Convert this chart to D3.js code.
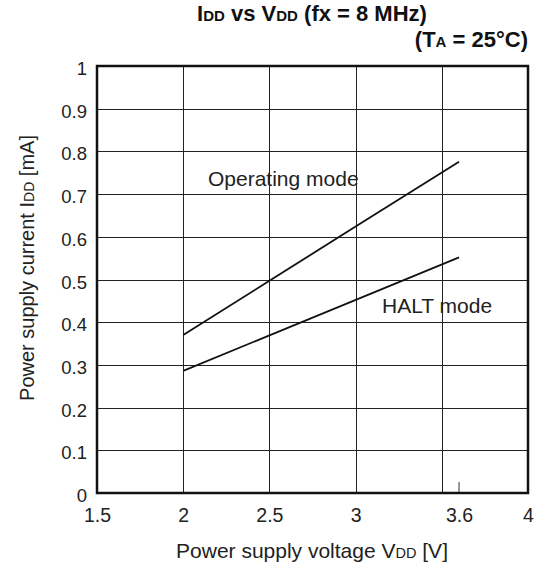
<!DOCTYPE html>
<html>
<head>
<meta charset="utf-8">
<script src="https://cdn.jsdelivr.net/npm/d3@7"></script>
<style>
  html, body { margin: 0; padding: 0; background: #fff; }
  svg { display: block; font-family: "Liberation Sans", Arial, sans-serif; }
</style>
</head>
<body>
<svg id="chart" width="538" height="569"></svg>
<script>
// Supply current vs supply voltage at fx = 8 MHz, TA = 25 °C
const xTickValues = [1.5, 2, 2.5, 3, 3.6, 4];
const xGridValues = [2, 2.5, 3, 3.5];
const yTickValues = [0, 0.1, 0.2, 0.3, 0.4, 0.5, 0.6, 0.7, 0.8, 0.9, 1];
const operatingVdd = [2, 2.5, 3, 3.6];
const operatingIdd = [0.37, 0.497, 0.624, 0.776];
const haltVdd = [2, 3.6];
const haltIdd = [0.286, 0.552];

const svg = d3.select("#chart");
const margin = { left: 97, right: 10, top: 66, bottom: 76 };
const W = 538, H = 569;

const x = d3.scaleLinear().domain([1.5, 4]).range([margin.left, W - margin.right]);
const y = d3.scaleLinear().domain([0, 1]).range([H - margin.bottom, margin.top]);

// grid
const grid = svg.append("g").attr("stroke", "#222").attr("stroke-width", 1);
grid.selectAll("line.v").data(xGridValues).join("line")
  .attr("x1", d => Math.round(x(d)) + 0.5).attr("x2", d => Math.round(x(d)) + 0.5)
  .attr("y1", y(0)).attr("y2", y(1));
grid.selectAll("line.h").data(yTickValues.filter(v => v > 0 && v < 1)).join("line")
  .attr("x1", x(1.5)).attr("x2", x(4))
  .attr("y1", d => Math.round(y(d)) + 0.5).attr("y2", d => Math.round(y(d)) + 0.5);

// short marker at 3.6 V
svg.append("line")
  .attr("x1", x(3.6)).attr("x2", x(3.6))
  .attr("y1", y(0)).attr("y2", y(0.026))
  .attr("stroke", "#333").attr("stroke-width", 1);

// curves
const line = d3.line().x(d => x(d[0])).y(d => y(d[1]));
svg.append("path")
  .datum(d3.zip(operatingVdd, operatingIdd))
  .attr("d", line).attr("fill", "none").attr("stroke", "#111").attr("stroke-width", 1.8);
svg.append("path")
  .datum(d3.zip(haltVdd, haltIdd))
  .attr("d", line).attr("fill", "none").attr("stroke", "#111").attr("stroke-width", 1.8);

// frame
svg.append("rect")
  .attr("x", x(1.5)).attr("y", y(1))
  .attr("width", x(4) - x(1.5)).attr("height", y(0) - y(1))
  .attr("fill", "none").attr("stroke", "#111").attr("stroke-width", 2.5);

// axes
const xAxis = d3.axisBottom(x).tickValues(xTickValues).tickSize(0).tickPadding(0)
  .tickFormat(d3.format("~g"));
const gx = svg.append("g").attr("transform", `translate(0,${y(0)})`).call(xAxis);
gx.select(".domain").remove();
gx.selectAll("text").attr("font-size", 19.5).attr("fill", "#222")
  .attr("dy", null).attr("y", 29);

const yAxis = d3.axisLeft(y).tickValues(yTickValues).tickSize(0).tickPadding(0)
  .tickFormat(d3.format("~g"));
const gy = svg.append("g").attr("transform", `translate(${x(1.5)},0)`).call(yAxis);
gy.select(".domain").remove();
gy.selectAll("text").attr("font-size", 18.5).attr("fill", "#222")
  .attr("x", -10).attr("dy", null).attr("y", 8.5);

// axis titles
const xt = svg.append("text").attr("x", 312).attr("y", 558)
  .attr("text-anchor", "middle").attr("font-size", 21).attr("fill", "#222");
xt.append("tspan").text("Power supply voltage V");
xt.append("tspan").attr("font-size", 14.5).text("DD");
xt.append("tspan").text(" [V]");

const yt = svg.append("text").attr("transform", `translate(34,268) rotate(-90)`)
  .attr("text-anchor", "middle").attr("font-size", 20).attr("fill", "#222");
yt.append("tspan").text("Power supply current I");
yt.append("tspan").attr("font-size", 14).text("DD");
yt.append("tspan").text(" [mA]");

// title
const t1 = svg.append("text").attr("x", 312).attr("y", 21)
  .attr("text-anchor", "middle").attr("font-size", 22).attr("font-weight", "bold").attr("fill", "#111");
t1.append("tspan").text("I");
t1.append("tspan").attr("font-size", 15).text("DD");
t1.append("tspan").text(" vs V");
t1.append("tspan").attr("font-size", 15).text("DD");
t1.append("tspan").text(" (fx = 8 MHz)");

const t2 = svg.append("text").attr("x", 528).attr("y", 47)
  .attr("text-anchor", "end").attr("font-size", 22).attr("font-weight", "bold").attr("fill", "#111");
t2.append("tspan").text("(T");
t2.append("tspan").attr("font-size", 15).text("A");
t2.append("tspan").text(" = 25°C)");

// curve labels
svg.append("text").attr("x", 208).attr("y", 186).attr("font-size", 21).attr("fill", "#222")
  .text("Operating mode");
svg.append("text").attr("x", 382).attr("y", 313).attr("font-size", 21).attr("fill", "#222")
  .text("HALT mode");
</script>
</body>
</html>
